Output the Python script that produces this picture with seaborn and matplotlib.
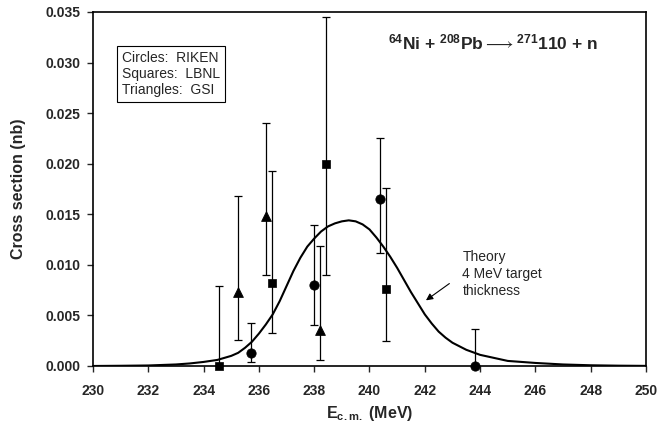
import matplotlib
matplotlib.use("Agg")
import matplotlib.pyplot as plt
import seaborn as sns
import pandas as pd

# ---- data ----
riken_x = [235.70, 238.00, 240.37, 243.82]
riken_y = [0.0013, 0.0080, 0.0165, 0.0000]
riken_lo = [0.00037, 0.00405, 0.01114, 0.0000]
riken_hi = [0.00425, 0.01397, 0.02251, 0.00363]

lbnl_x = [234.57, 236.49, 238.43, 240.58]
lbnl_y = [0.0000, 0.00824, 0.0200, 0.00764]
lbnl_lo = [0.0000, 0.0033, 0.0090, 0.0025]
lbnl_hi = [0.00794, 0.01928, 0.0345, 0.01763]

gsi_x = [235.24, 236.27, 238.21]
gsi_y = [0.00735, 0.01486, 0.00353]
gsi_lo = [0.00257, 0.00897, 0.0006]
gsi_hi = [0.01678, 0.0240, 0.0119]

theory_x = [230, 231, 232, 232.5, 233, 233.5, 234, 234.5, 235, 235.25, 235.5, 235.75,
            236, 236.25, 236.5, 236.75, 237, 237.25, 237.5, 237.75, 238, 238.25,
            238.5, 238.75, 239, 239.25, 239.5, 239.75, 240, 240.25, 240.5, 240.75,
            241, 241.25, 241.5, 241.75, 242, 242.25, 242.5, 242.75, 243, 243.5, 244,
            244.5, 245, 245.5, 246, 247, 248, 249, 250]
theory_y = [0.0, 0.00002, 0.00005, 0.0001, 0.00015, 0.00025, 0.0004, 0.0006, 0.0010,
            0.0013, 0.0018, 0.0024, 0.0032, 0.0041, 0.0051, 0.0064, 0.0079, 0.0094,
            0.0107, 0.0118, 0.0126, 0.0133, 0.0138, 0.0141, 0.0143, 0.0144, 0.0143,
            0.0140, 0.0135, 0.0127, 0.0118, 0.0108, 0.0097, 0.0085, 0.0073, 0.0062,
            0.0051, 0.0042, 0.0034, 0.0028, 0.0023, 0.0016, 0.0011, 0.0008, 0.0005,
            0.0004, 0.0003, 0.00015, 0.00007, 0.00003, 0.00001]

x_ticks = [230, 232, 234, 236, 238, 240, 242, 244, 246, 248, 250]
y_ticks = [0.000, 0.005, 0.010, 0.015, 0.020, 0.025, 0.030, 0.035]

# ---- style ----
sns.set_style("ticks")
plt.rcParams['font.family'] = ['Liberation Sans', 'DejaVu Sans']
plt.rcParams['mathtext.fontset'] = 'custom'
plt.rcParams['mathtext.rm'] = 'Liberation Sans'
plt.rcParams['mathtext.bf'] = 'Liberation Sans:bold'
plt.rcParams['mathtext.default'] = 'bf'
plt.rcParams['mathtext.fallback'] = 'stixsans'

fig = plt.figure(figsize=(6.58, 4.28), dpi=100)
ax = fig.add_axes([0.1413, 0.1449, 0.8405, 0.8271])

theory = pd.DataFrame({"x": theory_x, "y": theory_y})
sns.lineplot(data=theory, x="x", y="y", ax=ax, color="black", linewidth=1.5)

def draw(xs, ys, lo, hi, marker, size):
    yerr = [[y - l for y, l in zip(ys, lo)], [h - y for y, h in zip(ys, hi)]]
    ax.errorbar(xs, ys, yerr=yerr, fmt="none", ecolor="black", elinewidth=0.9,
                capsize=3, capthick=0.9, zorder=3)
    df = pd.DataFrame({"x": xs, "y": ys})
    sns.scatterplot(data=df, x="x", y="y", ax=ax, marker=marker, s=size,
                    color="black", edgecolor="black", zorder=4, clip_on=False)

draw(riken_x, riken_y, riken_lo, riken_hi, "o", 45)
draw(lbnl_x, lbnl_y, lbnl_lo, lbnl_hi, "s", 38)
draw(gsi_x, gsi_y, gsi_lo, gsi_hi, "^", 50)

ax.set_xlim(230, 250)
ax.set_ylim(0, 0.035)
ax.set_xticks(x_ticks)
ax.set_yticks(y_ticks)
ax.set_xticklabels([str(t) for t in x_ticks])
ax.set_yticklabels([f"{t:.3f}" for t in y_ticks])
ax.tick_params(direction="out", length=4, width=1, labelsize=10)
ax.tick_params(axis="x", pad=9)
ax.tick_params(axis="y", pad=5)
for lab in ax.get_xticklabels() + ax.get_yticklabels():
    lab.set_fontweight("bold")
for s in ax.spines.values():
    s.set_visible(True)
    s.set_linewidth(1.2)
    s.set_color("black")

ax.set_xlabel(r"E$_{\mathbf{c.m.}}$ (MeV)", fontsize=11.5, fontweight="bold", labelpad=4)
ax.set_ylabel("Cross section (nb)", fontsize=11.5, fontweight="bold", labelpad=14)

ax.text(0.052, 0.89, "Circles:  RIKEN\nSquares:  LBNL\nTriangles:  GSI",
        transform=ax.transAxes, fontsize=10, va="top", ha="left", linespacing=1.2,
        bbox=dict(boxstyle="square,pad=0.35", fc="white", ec="black", lw=0.8))

ax.text(0.533, 0.915, r"$^{64}$Ni + $^{208}$Pb$\mathrm{\longrightarrow}$$^{271}$110 + n",
        transform=ax.transAxes, fontsize=12.5, fontweight="bold", va="center", ha="left")

ax.annotate("", xy=(241.96, 0.00633), xytext=(242.97, 0.00831),
            arrowprops=dict(arrowstyle="-|>", color="black", lw=0.8, mutation_scale=10))
ax.text(243.36, 0.0115, "Theory\n4 MeV target\nthickness", fontsize=10,
        va="top", ha="left", linespacing=1.3)

fig.savefig("out.png", dpi=100)
